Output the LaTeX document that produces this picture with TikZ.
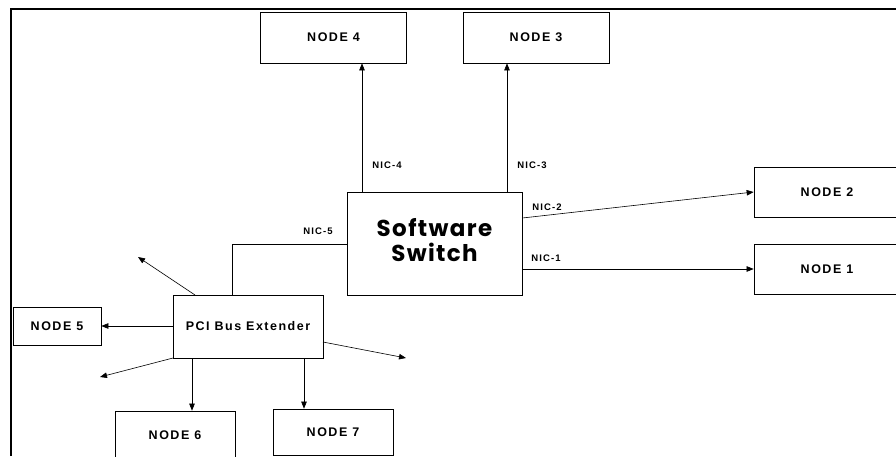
\documentclass[tikz,border=0pt]{standalone}
\usepackage{fontspec}
\setmainfont{Liberation Sans}
\newfontfamily\boxfont{Liberation Sans}[LetterSpace=12]
\newfontfamily\swfont{Poppins}[LetterSpace=6]
\usetikzlibrary{arrows.meta}
\begin{document}
\begin{tikzpicture}[x=1pt,y=-1pt,
  box/.style={draw,line width=0.7pt,inner sep=0pt,font=\boxfont\bfseries\fontsize{12.5}{14}\selectfont},
  link/.style={line width=0.6pt},
  arr/.style={link,-{Triangle[length=7pt,width=5.5pt]}},
  nic/.style={font=\boxfont\bfseries\fontsize{9.5}{10}\selectfont,inner sep=0pt}]
\useasboundingbox (0,0) rectangle (896,456);

% outer frame (top and left edges)
\draw[line width=2pt] (11,456) -- (11,8.5) -- (896,8.5);

% boxes
\node[box,minimum width=146pt,minimum height=51pt] (n4) at (333.5,37.5) {NODE 4};
\node[box,minimum width=146pt,minimum height=51pt] (n3) at (536,37.5) {NODE 3};
\node[box,minimum width=146pt,minimum height=50pt] (n2) at (827,192) {NODE 2};
\node[box,minimum width=146pt,minimum height=50pt] (n1) at (827,269) {NODE 1};
\node[box,minimum width=175pt,minimum height=103pt,
      font=\swfont\bfseries\fontsize{23}{26}\selectfont] (sw) at (434.5,243.5)
      {\raisebox{4pt}{\begin{tabular}{@{}c@{}}Software\\[-1pt]Switch\end{tabular}}};
\node[box,minimum width=150pt,minimum height=63pt,
      font=\boxfont\bfseries\fontsize{12.5}{14}\selectfont] (pci) at (248,326.5) {PCI Bus Extender};
\node[box,minimum width=88pt,minimum height=38pt] (n5) at (57,326) {NODE 5};
\node[box,minimum width=120pt,minimum height=48pt] (n6) at (175,435) {NODE 6};
\node[box,minimum width=120pt,minimum height=46pt] (n7) at (333,432) {NODE 7};

% helper positions for the connector lines
\coordinate (x4) at (362,0);
\coordinate (x3) at (507,0);
\coordinate (y2a) at (0,218);
\coordinate (y2b) at (0,192);
\coordinate (y1) at (0,269);
\coordinate (y5) at (0,244);
\coordinate (x5) at (232,0);
\coordinate (yp) at (0,326);
\coordinate (x6) at (192,0);
\coordinate (x7) at (304,0);
\coordinate (pa) at (195,295);
\coordinate (pb) at (173,358);
\coordinate (pc) at (323,342);
\coordinate (fa) at (138,257);
\coordinate (fb) at (100,377);
\coordinate (fc) at (406,358);

% switch links
\draw[arr] (sw.north -| x4) -- (n4.south -| x4);
\draw[arr] (sw.north -| x3) -- (n3.south -| x3);
\draw[arr] (sw.east |- y2a) -- (n2.west |- y2b);
\draw[arr] (sw.east |- y1) -- (n1.west |- y1);
\draw[link] (sw.west |- y5) -| (pci.north -| x5);

% bus extender links
\draw[arr] (pci.west |- yp) -- (n5.east |- yp);
\draw[arr] (pci.south -| x6) -- (n6.north -| x6);
\draw[arr] (pci.south -| x7) -- (n7.north -| x7);
\draw[arr] (pa) -- (fa);
\draw[arr] (pb) -- (fb);
\draw[arr] (pc) -- (fc);

% interface labels
\node[nic] (l4) at (387,165) {NIC-4};
\node[nic] (l3) at (532,165) {NIC-3};
\node[nic] (l2) at (547,207) {NIC-2};
\node[nic] (l1) at (546,258) {NIC-1};
\node[nic] (l5) at (318,231) {NIC-5};
\end{tikzpicture}
\end{document}
